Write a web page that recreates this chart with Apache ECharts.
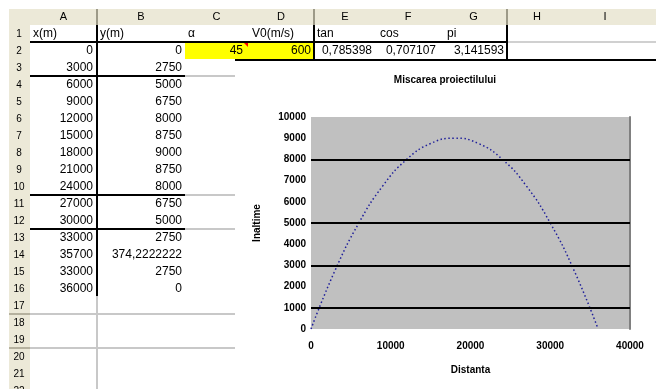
<!DOCTYPE html>
<html>
<head>
<meta charset="utf-8">
<script src="https://cdn.jsdelivr.net/npm/echarts@6/dist/echarts.min.js"></script>
<style>
  html, body { margin: 0; padding: 0; background: #fff; }
  #main { width: 656px; height: 389px; }
</style>
</head>
<body>
<div id="main"></div>
<script>
// sheet contents
const colLetters = ["A", "B", "C", "D", "E", "F", "G", "H", "I"];
const headerCells = ["x(m)", "y(m)", "α", "V0(m/s)", "tan", "cos", "pi"];
const paramCells = ["45", "600", "0,785398", "0,707107", "3,141593"];
const xCells = [0, 3000, 6000, 9000, 12000, 15000, 18000, 21000, 24000, 27000, 30000, 33000, 35700, 33000, 36000];
const yCells = [0, 2750, 5000, 6750, 8000, 8750, 9000, 8750, 8000, 6750, 5000, 2750, 374.2222222, 2750, 0];

// chart data
const distance = [0, 3000, 6000, 9000, 12000, 15000, 18000, 21000, 24000, 27000, 30000, 33000, 36000];
const height = [0, 2750, 5000, 6750, 8000, 8750, 9000, 8750, 8000, 6750, 5000, 2750, 0];
const ruledLevels = [1000, 3000, 5000, 8000];

// sheet geometry
const colX = [30, 97, 185, 248, 314, 376, 440, 507, 567, 643];
const rowH = 17;
const headTop = 9, headBot = 25;
const rowTop = (n) => headBot + (n - 1) * rowH;
const beige = "#ECE9D8";
const cellFont = "12px 'Liberation Sans', Arial, sans-serif";

let g = [];
// header strips
g.push({ type: "rect", shape: { x: 9, y: headTop, width: 647, height: headBot - headTop }, style: { fill: beige } });
g.push({ type: "rect", shape: { x: 9, y: headBot, width: 21, height: 389 - headBot }, style: { fill: beige } });
colLetters.forEach((c, i) => {
  g.push({ type: "text", style: { text: c, x: (colX[i] + colX[i + 1]) / 2, y: 17, align: "center", verticalAlign: "middle",
    font: "11px 'Liberation Sans', Arial, sans-serif", fill: "#000" } });
});
[97, 314, 507].forEach((x) => {
  g.push({ type: "line", shape: { x1: x, y1: headTop, x2: x, y2: headBot }, style: { stroke: "#9D9A88", lineWidth: 2 } });
});
for (let n = 1; n <= 22; n++) {
  g.push({ type: "text", style: { text: String(n), x: 19, y: rowTop(n) + 9, align: "center", verticalAlign: "middle",
    font: "10px 'Liberation Sans', Arial, sans-serif", fill: "#000" } });
}
// yellow input cells and comment marker
g.push({ type: "rect", shape: { x: 185, y: 42, width: 129, height: 17 }, style: { fill: "#FFFF00" } });
g.push({ type: "polygon", shape: { points: [[243, 42], [248, 42], [248, 47]] }, style: { fill: "#FF0000" } });

function hline(y, x1, x2, color) {
  g.push({ type: "line", shape: { x1: x1, y1: y, x2: x2, y2: y }, style: { stroke: color, lineWidth: 2 } });
}
function vline(x, y1, y2, color) {
  g.push({ type: "line", shape: { x1: x, y1: y1, x2: x, y2: y2 }, style: { stroke: color, lineWidth: 2 } });
}
hline(42, 30, 507, "#000");
hline(42, 507, 656, "#D0D0D0");
hline(60, 235, 656, "#000");
[76, 195, 229].forEach((y) => { hline(y, 30, 185, "#000"); hline(y, 185, 235, "#C8C8C8"); });
[314, 348].forEach((y) => { hline(y, 9, 30, "#B5B19E"); hline(y, 30, 235, "#C8C8C8"); });
vline(97, headBot, 296, "#000");
vline(97, 296, 389, "#C8C8C8");
vline(314, headBot, 60, "#000");
vline(507, headBot, 60, "#000");

// header texts
const headLeft = [33, 100, 188, 252, 317, 380, 447];
headerCells.forEach((t, i) => {
  g.push({ type: "text", style: { text: t, x: headLeft[i], y: rowTop(1) + 9, align: "left", verticalAlign: "middle", font: cellFont, fill: "#000" } });
});
const paramRight = [243, 311, 372, 436, 504];
paramCells.forEach((t, i) => {
  g.push({ type: "text", style: { text: t, x: paramRight[i], y: rowTop(2) + 9, align: "right", verticalAlign: "middle", font: cellFont, fill: "#000" } });
});
xCells.forEach((v, i) => {
  const y = rowTop(i + 2) + 9;
  g.push({ type: "text", style: { text: String(v).replace(".", ","), x: 93, y: y, align: "right", verticalAlign: "middle", font: cellFont, fill: "#000" } });
  g.push({ type: "text", style: { text: String(yCells[i]).replace(".", ","), x: 182, y: y, align: "right", verticalAlign: "middle", font: cellFont, fill: "#000" } });
});

const chart = echarts.init(document.getElementById("main"));
const labelFont = { color: "#000", fontSize: 10, fontWeight: "bold", fontFamily: "'Liberation Sans', Arial, sans-serif" };
const plain = (v) => String(v);

chart.setOption({
  animation: false,
  backgroundColor: "#fff",
  title: {
    text: "Miscarea proiectilului",
    left: 445,
    top: 75,
    padding: 0,
    textAlign: "center",
    textStyle: { color: "#000", fontSize: 10, fontWeight: "bold", fontFamily: "'Liberation Sans', Arial, sans-serif" },
  },
  graphic: g,
  grid: {
    left: 311,
    right: 26,
    top: 117,
    bottom: 60,
    show: true,
    backgroundColor: "#C0C0C0",
    borderWidth: 0,
  },
  xAxis: {
    type: "value",
    min: 0,
    max: 40000,
    interval: 10000,
    name: "Distanta",
    nameLocation: "middle",
    nameGap: 36,
    nameTextStyle: labelFont,
    axisLine: { show: false },
    axisTick: { show: false },
    splitLine: { show: false },
    axisLabel: Object.assign({ margin: 12, formatter: plain }, labelFont),
  },
  yAxis: [
    {
      type: "value",
      min: 0,
      max: 10000,
      interval: 1000,
      name: "Inaltime",
      nameLocation: "middle",
      nameGap: 49,
      nameRotate: 90,
      nameTextStyle: labelFont,
      axisLine: { show: false },
      axisTick: { show: false },
      splitLine: { show: false },
      axisLabel: Object.assign({ margin: 5, formatter: plain }, labelFont),
    },
    {
      type: "value",
      position: "right",
      min: 0,
      max: 10000,
      axisLine: { show: true, lineStyle: { color: "#808080", width: 2 } },
      axisTick: { show: false },
      axisLabel: { show: false },
      splitLine: { show: false },
    },
  ],
  series: [
    {
      type: "line",
      data: distance.map((x, i) => [x, height[i]]),
      smooth: true,
      showSymbol: false,
      lineStyle: { color: "#1F1F9A", width: 1.5, type: [1.5, 2.5] },
      markLine: {
        silent: true,
        symbol: "none",
        label: { show: false },
        lineStyle: { color: "#000", width: 2, type: "solid" },
        data: ruledLevels.map((v) => ({ yAxis: v })),
      },
      z: 3,
    },
  ],
});
</script>
</body>
</html>
